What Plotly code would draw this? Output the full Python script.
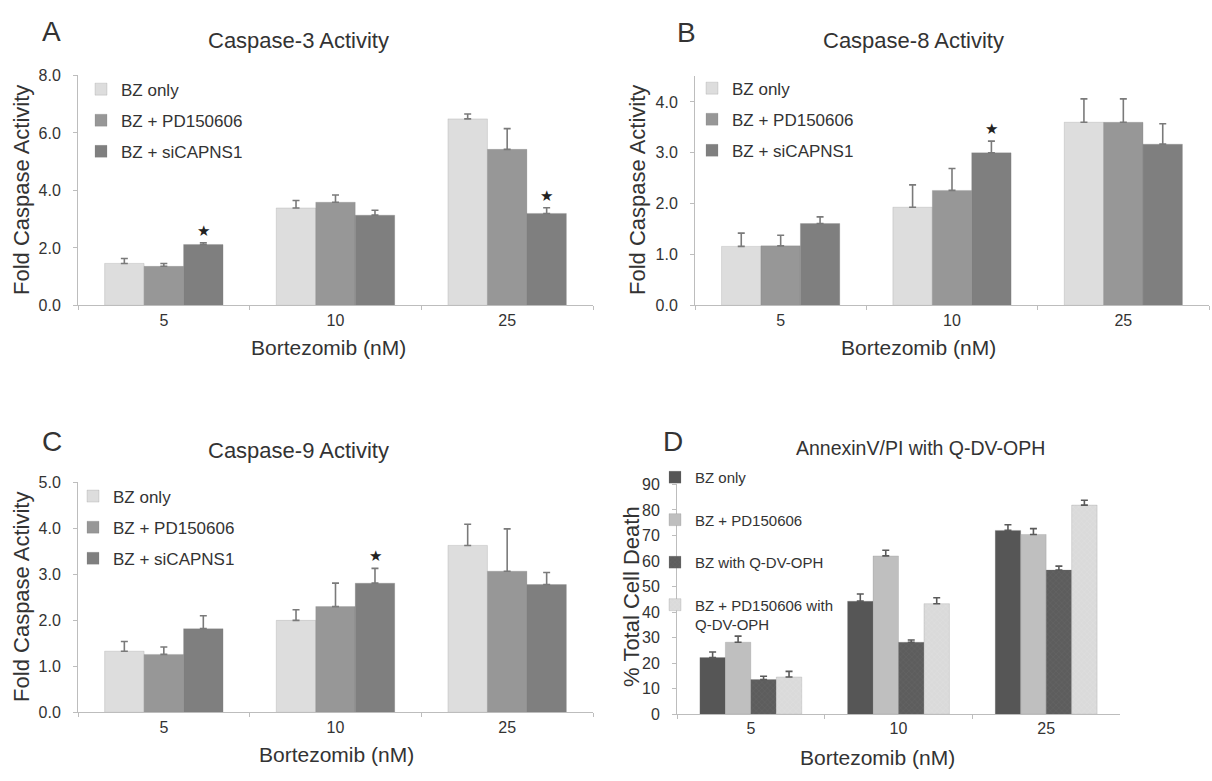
import plotly.graph_objects as go

W, H = 1212, 781

# ---------------- data ----------------
doses = ["5", "10", "25"]

# Panel A: Caspase-3
c3_bz = [1.46, 3.39, 6.49]
c3_bz_err = [0.17, 0.26, 0.17]
c3_pd = [1.36, 3.59, 5.43]
c3_pd_err = [0.10, 0.25, 0.72]
c3_si = [2.12, 3.14, 3.20]
c3_si_err = [0.06, 0.17, 0.20]

# Panel B: Caspase-8
c8_bz = [1.16, 1.93, 3.60]
c8_bz_err = [0.26, 0.44, 0.46]
c8_pd = [1.17, 2.26, 3.60]
c8_pd_err = [0.21, 0.43, 0.46]
c8_si = [1.61, 3.00, 3.17]
c8_si_err = [0.13, 0.23, 0.40]

# Panel C: Caspase-9
c9_bz = [1.33, 2.00, 3.63]
c9_bz_err = [0.21, 0.23, 0.46]
c9_pd = [1.26, 2.30, 3.07]
c9_pd_err = [0.16, 0.51, 0.92]
c9_si = [1.82, 2.81, 2.78]
c9_si_err = [0.28, 0.32, 0.26]

# Panel D: AnnexinV/PI
d_bz = [22.2, 44.3, 72.0]
d_bz_err = [2.2, 2.8, 2.2]
d_pd = [28.2, 62.0, 70.4]
d_pd_err = [2.4, 2.2, 2.3]
d_q = [13.6, 28.2, 56.5]
d_q_err = [1.3, 0.9, 1.5]
d_pdq = [14.6, 43.3, 81.9]
d_pdq_err = [2.2, 2.3, 1.9]

legend_abc = ["BZ only", "BZ + PD150606", "BZ + siCAPNS1"]
legend_d = ["BZ only", "BZ + PD150606", "BZ with Q-DV-OPH", "BZ + PD150606 with<br>Q-DV-OPH"]

# significance stars: (panel, dose, series index, height)
stars = [("A", "5", 2, c3_si[0] + c3_si_err[0]),
         ("A", "25", 2, c3_si[2] + c3_si_err[2]),
         ("B", "10", 2, c8_si[1] + c8_si_err[1]),
         ("C", "10", 2, c9_si[1] + c9_si_err[1])]

# ---------------- style ----------------
FONT = "Liberation Sans, Arial, sans-serif"
TXT = "#333333"
AXC = "#bdbdbd"
cols_abc = ["#dddddd", "#979797", "#7f7f7f"]
cols_d = ["#565656", "#bfbfbf", "#5d5d5d", "#dadada"]


def px_x(x):
    return x / W


def px_y(y):
    return 1 - y / H


fig = go.Figure()

panels = {
    "A": dict(ax="", series=[(c3_bz, c3_bz_err), (c3_pd, c3_pd_err), (c3_si, c3_si_err)],
              names=legend_abc, cols=cols_abc, leg="legend"),
    "B": dict(ax="2", series=[(c8_bz, c8_bz_err), (c8_pd, c8_pd_err), (c8_si, c8_si_err)],
              names=legend_abc, cols=cols_abc, leg="legend2"),
    "C": dict(ax="3", series=[(c9_bz, c9_bz_err), (c9_pd, c9_pd_err), (c9_si, c9_si_err)],
              names=legend_abc, cols=cols_abc, leg="legend3"),
    "D": dict(ax="4", series=[(d_bz, d_bz_err), (d_pd, d_pd_err), (d_q, d_q_err), (d_pdq, d_pdq_err)],
              names=legend_d, cols=cols_d, leg="legend4"),
}

patterns_d = [None, None,
              dict(shape="x", size=4, solidity=0.25, fgcolor="#6c6c6c"),
              dict(shape="x", size=4, solidity=0.25, fgcolor="#e6e6e6")]

for key, p in panels.items():
    for i, ((vals, err), name, col) in enumerate(zip(p["series"], p["names"], p["cols"])):
        marker = dict(color=col, line=dict(width=0.6, color="rgba(120,120,120,0.35)"))
        if key == "D" and patterns_d[i] is not None:
            marker["pattern"] = patterns_d[i]
        fig.add_trace(go.Bar(
            x=doses, y=vals, name=name,
            marker=marker,
            error_y=dict(type="data", array=err, arrayminus=[0] * len(err), symmetric=False,
                         color="#7a7a7a" if key != "D" else "#5a5a5a",
                         thickness=1.6, width=3.5),
            xaxis="x" + p["ax"], yaxis="y" + p["ax"],
            legend=p["leg"], legendgroup=key + str(i),
            hoverinfo="skip",
        ))

# ---------------- axes ----------------
xdom = {"": (78, 593), "2": (695, 1209), "3": (78, 593), "4": (677, 1120)}
ydom = {"": (69, 304), "2": (70, 304), "3": (485, 720), "4": (487, 722)}
yrng = {"": (0, 8, 2), "2": (0, 4.5, 1), "3": (0, 5, 1), "4": (0, 90, 10)}
yfmt = {"": ".1f", "2": ".1f", "3": ".1f", "4": "d"}

layout = dict(
    width=W, height=H,
    margin=dict(l=0, r=0, t=0, b=0),
    paper_bgcolor="white", plot_bgcolor="white",
    barmode="group", bargap=0.31,
    font=dict(family=FONT, color=TXT),
)

for ax in ["", "2", "3", "4"]:
    x0, x1 = xdom[ax]
    y0, y1 = ydom[ax]
    lo, hi, dt = yrng[ax]
    layout["xaxis" + ax] = dict(
        domain=[px_x(x0), px_x(x1)], anchor="y" + ax, type="category",
        range=[-0.5, len(doses) - 0.5], autorange=False,
        showline=True, linecolor=AXC, linewidth=1,
        ticks="outside", tickson="boundaries", ticklen=4, tickcolor=AXC,
        tickfont=dict(size=16, color=TXT, family=FONT), tickangle=0,
        showgrid=False, zeroline=False, fixedrange=True,
    )
    layout["yaxis" + ax] = dict(
        domain=[px_y(y1), px_y(y0)], anchor="x" + ax,
        range=[lo, hi], autorange=False, dtick=dt, tick0=0, tickformat=yfmt[ax],
        showline=True, linecolor=AXC, linewidth=1,
        ticks="outside", ticklen=4, tickcolor=AXC,
        ticklabelstandoff=9,
        tickfont=dict(size=16, color=TXT, family=FONT),
        showgrid=False, zeroline=False, fixedrange=True,
    )

fig.update_layout(**layout)


# ---------------- legends ----------------
def leg(x_text, y_top, size, gap, valign="middle"):
    return dict(
        x=px_x(x_text - 40), y=px_y(y_top), xanchor="left", yanchor="top",
        bgcolor="rgba(0,0,0,0)", borderwidth=0,
        font=dict(size=size, color=TXT, family=FONT),
        tracegroupgap=gap, itemclick=False, itemdoubleclick=False,
        valign=valign, traceorder="grouped",
    )


fig.update_layout(
    legend=leg(121, 89 - 24, 17, 6),
    legend2=leg(732, 88 - 24, 17, 6),
    legend3=leg(113, 505 - 24, 17, 6),
    legend4=leg(695, 478 - 15, 15, 20, valign="top"),
)

# ---------------- text ----------------
ann = []


def text(x, y, s, size, **kw):
    ann.append(dict(x=px_x(x), y=px_y(y), xref="paper", yref="paper", text=s,
                    showarrow=False, xanchor="center", yanchor="middle",
                    font=dict(size=size, color=TXT, family=FONT), **kw))


# panel letters
text(51, 24, "A", 28)
text(686, 25, "B", 28)
text(52, 443, "C", 28)
text(673, 443, "D", 28)
# titles
text(298, 33, "Caspase-3 Activity", 22)
text(913, 33, "Caspase-8 Activity", 22)
text(298, 452, "Caspase-9 Activity", 22)
text(920, 450, "AnnexinV/PI with Q-DV-OPH", 19.5)
# y titles
text(22, 186, "Fold Caspase Activity", 22, textangle=-90)
text(638, 186, "Fold Caspase Activity", 22, textangle=-90)
text(22, 602, "Fold Caspase Activity", 22, textangle=-90)
text(632, 602, "% Total Cell Death", 22, textangle=-90)
# x titles
text(328, 347, "Bortezomib (nM)", 21)
text(918, 347, "Bortezomib (nM)", 21)
text(336, 763, "Bortezomib (nM)", 21)
text(877, 766, "Bortezomib (nM)", 21)

axmap = {"A": "", "B": "2", "C": "3", "D": "4"}
for pan, dose, idx, yv in stars:
    ax = axmap[pan]
    ann.append(dict(x=doses.index(dose), y=yv, xref="x" + ax, yref="y" + ax, text="★",
                    showarrow=False, xanchor="center", yanchor="bottom",
                    xshift=(idx - 1) * 39.5, yshift=1,
                    font=dict(size=15, color="#222222", family="DejaVu Sans")))

fig.update_layout(annotations=ann)
fig.write_html("out.html")
